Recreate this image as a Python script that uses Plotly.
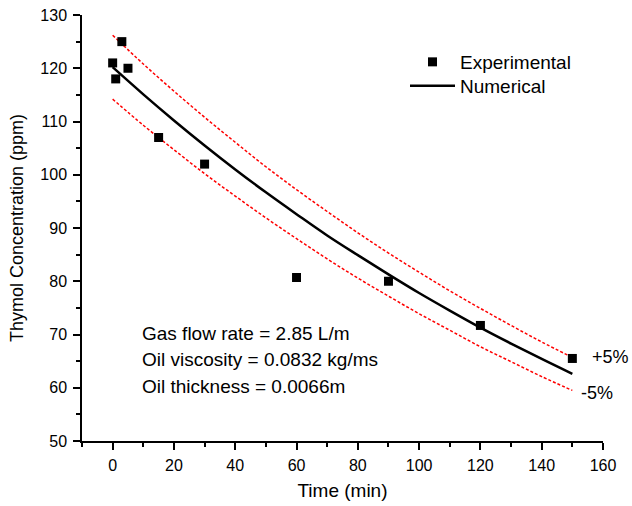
import plotly.graph_objects as go

# Experimental data
exp_time = [0, 1, 3, 5, 15, 30, 60, 90, 120, 150]
exp_conc = [121, 118, 125, 120, 107, 102, 80.7, 80, 71.7, 65.5]

# Numerical curve and +/-5% bounds
num_time = [0, 10, 20, 30, 40, 50, 60, 70, 80, 90, 100, 110, 120, 130, 140, 150]
num_conc = [120.2, 115.1, 110.2, 105.5, 101.0, 96.7, 92.6, 88.6, 84.9, 81.3, 77.8, 74.5, 71.3, 68.3, 65.4, 62.6]
upper_conc = [126.2, 120.8, 115.7, 110.8, 106.1, 101.5, 97.2, 93.1, 89.1, 85.3, 81.7, 78.2, 74.9, 71.7, 68.6, 65.7]
lower_conc = [114.2, 109.3, 104.7, 100.2, 96.0, 91.9, 88.0, 84.2, 80.6, 77.2, 73.9, 70.8, 67.7, 64.9, 62.1, 59.5]

notes = ["Gas flow rate = 2.85 L/m", "Oil viscosity = 0.0832 kg/ms", "Oil thickness = 0.0066m"]

FONT = "Liberation Sans, Arial, sans-serif"
W, H = 632, 506
L, R, T, B = 82, 603, 15, 441

def px(xp):
    return (xp - L) / (R - L)

def py(yp):
    return (B - yp) / (B - T)

fig = go.Figure()
dash_line = dict(color="#ff0000", width=1.5, dash="3px,2px")
fig.add_trace(go.Scatter(x=num_time, y=upper_conc, mode="lines", showlegend=False,
                         line=dash_line, line_shape="spline"))
fig.add_trace(go.Scatter(x=num_time, y=lower_conc, mode="lines", showlegend=False,
                         line=dash_line, line_shape="spline"))
fig.add_trace(go.Scatter(x=exp_time, y=exp_conc, mode="markers", name="Experimental",
                         legend="legend",
                         marker=dict(symbol="square", size=9, color="black")))
fig.add_trace(go.Scatter(x=num_time, y=num_conc, mode="lines", name="Numerical",
                         legend="legend2",
                         line=dict(color="black", width=2.5), line_shape="spline"))

for i, t in enumerate(notes):
    fig.add_annotation(x=px(140), y=py(333 + 26.5 * i), xref="paper", yref="paper", text=t,
                       showarrow=False, xanchor="left", yanchor="middle",
                       font=dict(size=19, color="black", family=FONT))
fig.add_annotation(x=px(590), y=py(357), xref="paper", yref="paper", text="+5%",
                   showarrow=False, xanchor="left", yanchor="middle",
                   font=dict(size=18, color="black", family=FONT))
fig.add_annotation(x=px(579), y=py(393), xref="paper", yref="paper", text="-5%",
                   showarrow=False, xanchor="left", yanchor="middle",
                   font=dict(size=18, color="black", family=FONT))

axis_common = dict(showgrid=False, zeroline=False, showline=True, linecolor="black", linewidth=1.5,
                   ticks="outside", ticklen=7, tickwidth=1.5, tickcolor="black", automargin=False,
                   tickfont=dict(size=16, color="black", family=FONT),
                   minor=dict(ticks="outside", ticklen=4, tickwidth=1.5, tickcolor="black"))

fig.update_xaxes(range=[-10, 160], tick0=0, dtick=20, minor_dtick=10, ticklabelstandoff=2,
                 title=dict(text="Time (min)", font=dict(size=19, color="black", family=FONT), standoff=11),
                 **axis_common)
fig.update_yaxes(range=[50, 130], tick0=50, dtick=10, minor_dtick=5, ticklabelstandoff=3,
                 title=dict(text="Thymol Concentration (ppm)", font=dict(size=18, color="black", family=FONT), standoff=12),
                 **axis_common)

legend_common = dict(xanchor="left", yanchor="top", bgcolor="rgba(0,0,0,0)",
                     font=dict(size=19, color="black", family=FONT), itemwidth=45)
fig.update_layout(
    width=W, height=H,
    margin=dict(l=L, r=W - R, t=T, b=H - B),
    paper_bgcolor="white", plot_bgcolor="white",
    font=dict(family=FONT, color="black"),
    legend=dict(x=px(405), y=py(43), **legend_common),
    legend2=dict(x=px(405), y=py(67), **legend_common),
)
fig.update_traces(cliponaxis=False)

fig.write_html("out.html", config={"displayModeBar": False},
               post_script="document.body.style.margin='0px';")
